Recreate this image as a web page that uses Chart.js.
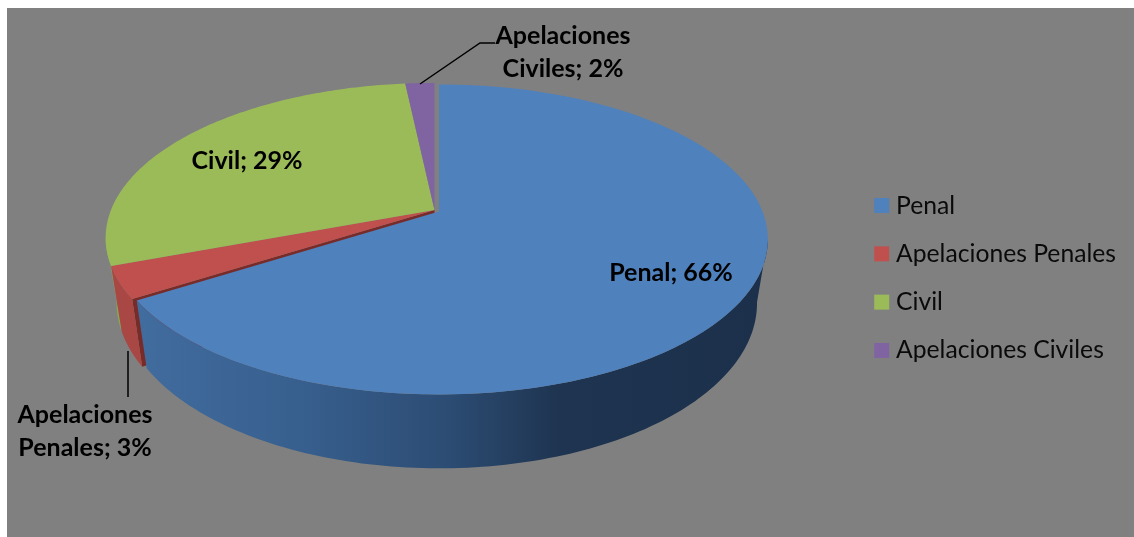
<!DOCTYPE html>
<html>
<head>
<meta charset="utf-8">
<script src="https://cdn.jsdelivr.net/npm/chart.js@4/dist/chart.umd.min.js"></script>
<style>
  body { margin: 0; background: #fff; }
  canvas { display: block; }
</style>
</head>
<body>
<canvas id="grafico" width="1134" height="537"></canvas>
<script>
const categorias = ['Penal', 'Apelaciones Penales', 'Civil', 'Apelaciones Civiles'];
const valores = [66, 3.3, 29, 1.7];
const colores = ['#4f81bd', '#c0504d', '#9bbb59', '#8064a2'];

// etiquetas: [x centro, y primera linea], una por categoria
const posEtiquetas = [[671, 273], [85, 415], [247, 161], [563, 36]];
const lineasEtiquetas = [null, ['Apelaciones', 'Penales; 3%'], null, ['Apelaciones', 'Civiles; 2%']];

// perspectiva de la tarta
const K = 0.18, RX = 323.5, RY = 150;
const CX = 434.5, CY = 210;
const CAIDA = 62, BASE_X = 0.967, BASE_Y = 1.065;
const sepPenal = [4.5, 1.5];
// la pared solo se ve entre estos angulos (los extremos de la elipse)
const VIS_INI = 10 * Math.PI / 180, VIS_FIN = 170 * Math.PI / 180;

function proyectar(ang, dx, dy, ex, ey) {
  const u = Math.cos(ang), v = Math.sin(ang);
  const den = 1 - K * v;
  return [CX + dx + RX * ex * u / den, CY + dy + RY * ey * v / den];
}

function trazarArco(ctx, a, b, dx, dy, ex, ey, mover) {
  const n = 120;
  for (let i = 0; i <= n; i++) {
    const p = proyectar(a + (b - a) * i / n, dx, dy, ex, ey);
    if (i == 0 && mover) ctx.moveTo(p[0], p[1]);
    else ctx.lineTo(p[0], p[1]);
  }
}

function pared(ctx, arco, dx, dy, relleno) {
  const a = Math.max(arco.startAngle, VIS_INI);
  const b = Math.min(arco.endAngle, VIS_FIN);
  if (b <= a) return;
  ctx.beginPath();
  trazarArco(ctx, a, b, dx, dy, 1, 1, true);
  trazarArco(ctx, b, a, dx, dy + CAIDA, BASE_X, BASE_Y, false);
  ctx.closePath();
  ctx.fillStyle = relleno;
  ctx.fill();
}

function corte(ctx, ang, dx, dy, relleno) {
  const a = proyectar(ang, dx, dy, 1, 1);
  const b = proyectar(ang, dx, dy + CAIDA, BASE_X, BASE_Y);
  ctx.beginPath();
  ctx.moveTo(CX + dx, CY + dy);
  ctx.lineTo(a[0], a[1]);
  ctx.lineTo(b[0], b[1]);
  ctx.lineTo(CX + dx, CY + dy + CAIDA);
  ctx.closePath();
  ctx.fillStyle = relleno;
  ctx.fill();
}

const tarta3d = {
  id: 'tarta3d',
  beforeDraw(chart) {
    const ctx = chart.ctx;
    ctx.fillStyle = '#808080';
    ctx.fillRect(7, 8, chart.width - 7, chart.height - 8);
  },
  beforeDatasetDraw(chart) {
    const ctx = chart.ctx;
    const arcos = chart.getDatasetMeta(0).data;
    const [sx, sy] = sepPenal;

    corte(ctx, arcos[1].startAngle, 0, 0, '#772c2a');
    pared(ctx, arcos[2], 0, 0, '#8aa84e');
    pared(ctx, arcos[1], 0, 0, '#a84743');

    const grad = ctx.createLinearGradient(138, 0, 760, 0);
    grad.addColorStop(0, '#416c9e');
    grad.addColorStop(0.25, '#38608f');
    grad.addColorStop(0.5, '#2c4c73');
    grad.addColorStop(0.68, '#1e3450');
    grad.addColorStop(1, '#1c304b');
    pared(ctx, arcos[0], sx, sy, grad);

    arcos.forEach((arco, i) => {
      const dx = i == 0 ? sx : 0, dy = i == 0 ? sy : 0;
      ctx.beginPath();
      ctx.moveTo(CX + dx, CY + dy);
      trazarArco(ctx, arco.startAngle, arco.endAngle, dx, dy, 1, 1, false);
      ctx.closePath();
      ctx.fillStyle = colores[i];
      ctx.fill();
    });

    // lineas guia
    ctx.strokeStyle = '#000';
    ctx.lineWidth = 1.5;
    ctx.beginPath();
    ctx.moveTo(420, 84); ctx.lineTo(480, 43); ctx.lineTo(495, 43);
    ctx.moveTo(128, 351); ctx.lineTo(128, 397);
    ctx.stroke();

    // etiquetas
    ctx.fillStyle = '#000';
    ctx.font = 'bold 25px Lato';
    ctx.textAlign = 'center';
    ctx.textBaseline = 'middle';
    categorias.forEach((cat, i) => {
      const lineas = lineasEtiquetas[i] || [cat + '; ' + Math.round(valores[i]) + '%'];
      lineas.forEach((t, j) => ctx.fillText(t, posEtiquetas[i][0], posEtiquetas[i][1] + j * 33));
    });
    return false;
  }
};

new Chart(document.getElementById('grafico'), {
  type: 'pie',
  data: {
    labels: categorias,
    datasets: [{ data: valores, backgroundColor: colores, borderWidth: 0 }]
  },
  options: {
    responsive: false,
    animation: false,
    layout: { padding: { right: 8, top: 19 } },
    plugins: {
      tooltip: { enabled: false },
      legend: {
        position: 'right',
        labels: {
          font: { family: 'Lato', size: 24.7 },
          boxWidth: 4,
          boxHeight: 4,
          padding: 23.6,
          generateLabels: () => categorias.map((cat, i) => ({
            text: cat, fontColor: '#0a0a0a', fillStyle: colores[i], strokeStyle: colores[i], lineWidth: 11, index: i
          }))
        }
      }
    }
  },
  plugins: [tarta3d]
});
</script>
</body>
</html>
